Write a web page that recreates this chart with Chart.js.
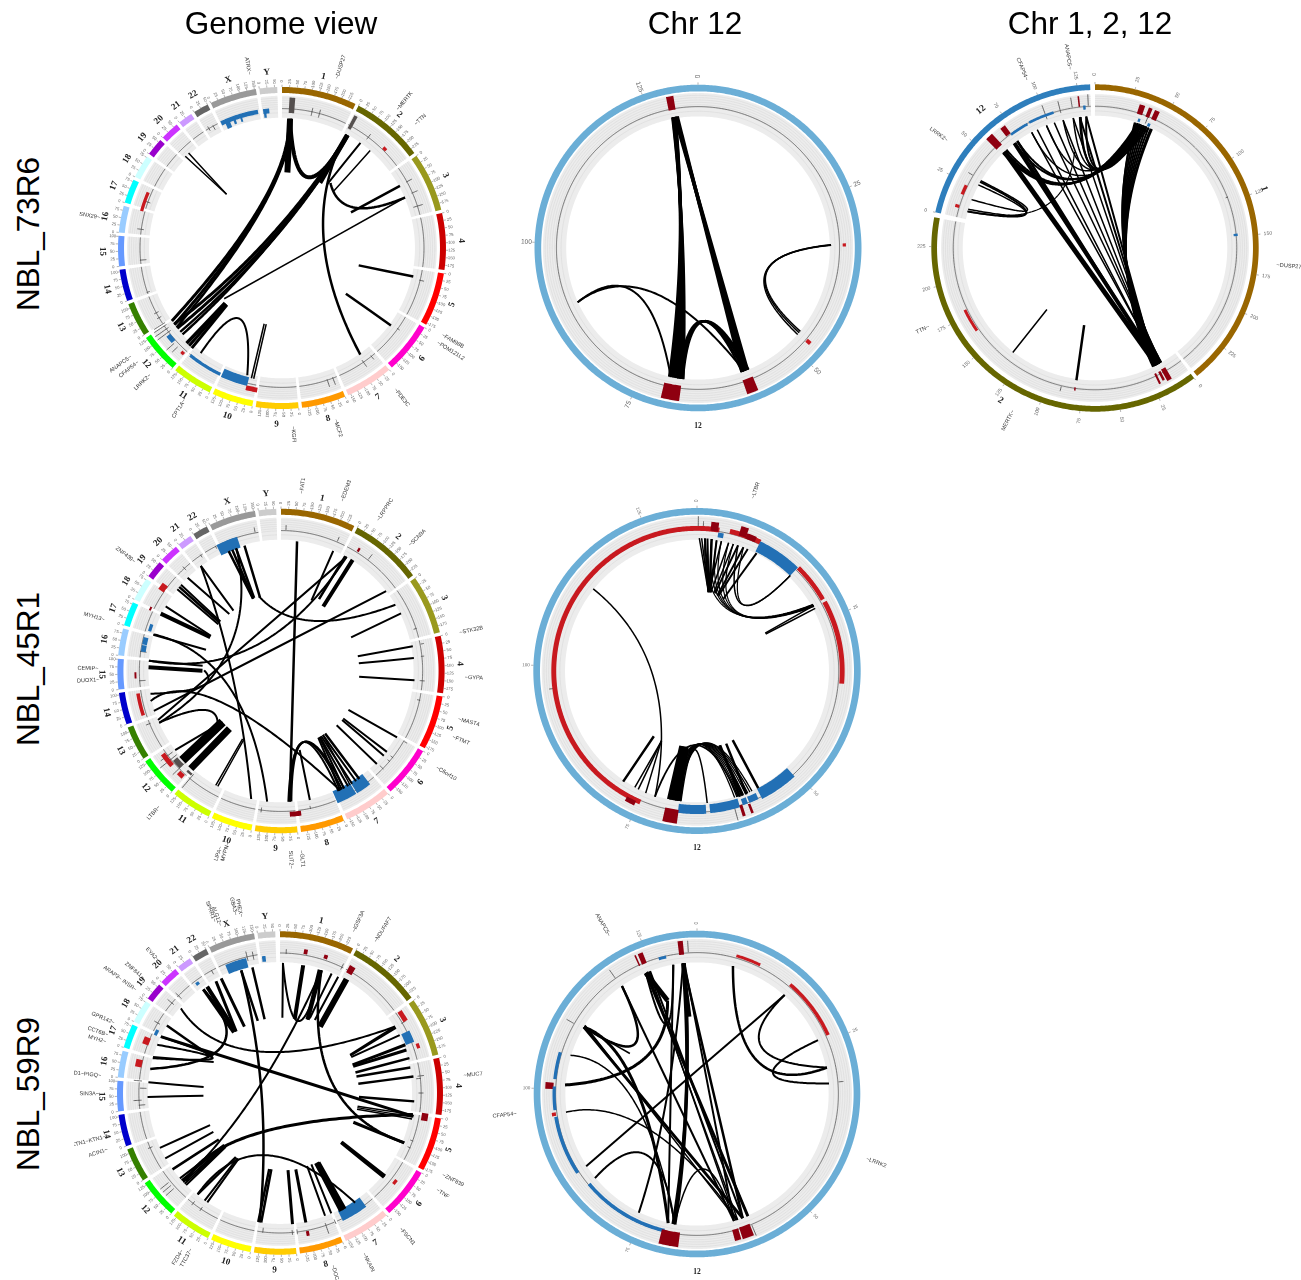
<!DOCTYPE html>
<html><head><meta charset="utf-8">
<script src="https://cdn.jsdelivr.net/npm/chart.js@4"></script>
<style>
html,body{margin:0;padding:0;background:#fff;width:1301px;height:1280px;overflow:hidden}
canvas{position:absolute;filter:blur(.35px)}
.t{position:absolute;font-family:"Liberation Sans",Arial,sans-serif;color:#000;white-space:nowrap;transform:translate(-50%,-50%)}
.r{transform:translate(-50%,-50%) rotate(-90deg)}
</style></head><body>
<script>
/* ---------- categories ---------- */
const CHROMOSOMES=['1','2','3','4','5','6','7','8','9','10','11','12','13','14','15','16','17','18','19','20','21','22','X','Y'];
const CHROM_SIZES=[249,243,198,191,181,171,159,146,141,136,135,133,115,107,102,90,81,78,59,63,48,51,155,59];
const CHROM_COLOURS=['#996600','#666600','#99991E','#CC0000','#FF0000','#FF00CC','#FFCCCC','#FF9900','#FFCC00','#FFFF00','#CCFF00','#00FF00','#358000','#0000CC','#6699FF','#99CCFF','#00FFFF','#CCFFFF','#9900CC','#CC33FF','#CC99FF','#666666','#999999','#CCCCCC'];
const COLUMN_TITLES=['Genome view','Chr 12','Chr 1, 2, 12'];
const SAMPLES=['NBL_73R6','NBL_45R1','NBL_59R9'];

/* links: [angle1, radius1, angle2, radius2, weight, controlAngle, controlRadius]
   segments: [startAngle, endAngle, level, height, kind]   marks: [angle, level0, level1]
   genes: [angle, level, name]                                                      */
const P1_LINKS=[[3.5,.805,4,.47,6],[3,.8,236,.81,3,9.5,.37],[3.5,.8,234,.81,3,9.5,.37],[4,.8,232.5,.81,2.5,9.5,.37],[3.5,.805,29.7,.807,4,31.8,.153],
[29.7,.807,234.3,.81,3,270,.04],[29.5,.65,232,.81,3,270,.04],[29.5,.65,230,.81,2.5,265,.03],[29.7,.807,228.5,.81,2.5,260,.03],[29.6,.807,29.6,.467,5],
[225.5,.487,224.5,.83,3.5],[224.5,.487,223,.83,3],[223.5,.487,221.5,.83,3],[67.3,.813,228.2,.473,1.5],[36.2,.81,34.9,.483,2],[41.6,.81,41.8,.476,1.5],
[61.8,.816,62.3,.475,2.5],[67.3,.813,36.2,.5,2.5,68.2,.386],[29.9,.66,144.2,.816,2.5,76,.12],[103,.48,102.5,.82,2.5],[126.1,.482,125.9,.82,2.5],
[314,.82,314.6,.475,1.5],[316,.82,314.6,.475,1.5],[217.2,.82,195,.818,2,226.5,.228],[193,.483,193,.83,1.5],[191.5,.483,192,.83,1.5]];
const P1_SEGMENTS=[[2.8,5,.888,.095,'mark'],[28.2,29.6,.89,.09,'mark'],[44.7,46.3,.878,.02,'amp'],[334.4,350.2,.858,.028,'loss'],[336,338,.83,.04,'loss'],[339.5,340.5,.835,.03,'loss'],[342.5,343.3,.835,.03,'loss'],[352.3,354.8,.855,.03,'loss'],[352.5,353.5,.83,.03,'loss'],
[205.6,220,.87,.02,'loss'],[194,205,.855,.055,'loss'],[189.7,194.2,.895,.03,'amp'],[228.7,232,.88,.03,'loss'],[222.2,223.6,.89,.02,'amp'],[285,292.9,.886,.02,'amp']];
const P1_MARKS=[[12.2,.84,.89],[15.3,.84,.89],[37.4,.85,.89],[61.6,.86,.9],[66.7,.86,.9],[72.5,.84,.9],[103.4,.86,.89],[125.4,.86,.88],[145,.85,.9],[141,.86,.89],[161.4,.86,.91],[159,.86,.91],[242.3,.85,.88],[240,.85,.88],[251.5,.85,.87],[265,.83,.87],[277.7,.85,.89],[289.2,.85,.88],[331,.84,.87],[329,.85,.88],[233,.85,.95],[234.5,.85,.95],[236,.85,.94],[237,.85,.93],[228,.885,.947],[226,.885,.93]];
const P1_GENES=[[17.6,1.18,'~DUSP27'],[39.3,1.18,'~MERTK'],[46.6,1.16,'~TTN'],[119,1.19,'~FAM98B'],[121.8,1.21,'~POM121L2'],[141.8,1.18,'~PDE3C'],[163,1.17,'~MCF2'],[176.5,1.16,'~KGFI'],[212.2,1.18,'CPT1A~'],[225.6,1.19,'LRRK2~'],[231.1,1.2,'CFAP54~'],[233.8,1.22,'ANAPC5~'],[279.7,1.19,'SNX29~'],[349.6,1.15,'ATRX~']];

const P2_LINKS=[[349,.815,186.5,.808,3,285.3,.066],[349.2,.815,187.5,.808,3,285.3,.066],[349.4,.815,188.5,.808,3,285.3,.066],[349.6,.815,189.5,.808,3,285.3,.066],[349.8,.815,190.5,.808,3,285.3,.066],[350,.815,191.5,.808,3,285.3,.066],[350.2,.815,192.5,.808,3,285.3,.066],
[350,.815,158,.806,3.5],[350.5,.815,159.3,.806,3.5],[351,.815,160.5,.806,3.5],[186.6,.808,157.5,.806,2.5,194.9,.127],[187.4,.808,158.5,.806,2.5,194.9,.127],[188,.808,159.5,.806,2.5,194.9,.127],[188.8,.808,160.5,.806,2,194.9,.12],
[245.7,.808,159.4,.806,2,268.5,.308],[245.7,.808,191.9,.808,2,271.5,.308],[88.6,.814,131,.808,1.5,114.4,.123],[88.7,.814,130,.808,1.5,113.8,.126],[88.8,.814,129.2,.808,1.5,113.3,.129]];
const P2_SEGMENTS=[[348,350.8,.902,.085,'gain'],[88.2,89.4,.895,.02,'amp'],[129.6,131.2,.887,.03,'amp'],[157,161.4,.9,.09,'gain'],[187,194,.897,.095,'gain']];
const P2_MARKS=[];
const P2_GENES=[];

const P3_LINKS=[[18,.805,150,.808,2,120,.03],[19,.805,150.5,.808,2,120,.03],[20,.805,151,.808,2,120,.03],[21,.805,151.5,.808,2,120,.03],[22,.805,152,.808,2,120,.03],[23,.805,152.5,.808,2,120,.03],[24,.805,153,.808,2,120,.03],[25,.805,153.5,.808,2,120,.03],[25.6,.805,154,.808,2,120,.03],[17.6,.805,150,.808,2,120,.04],
[316,.808,19,.805,2.5,310.5,.185],[317,.808,20,.805,2.5,310.5,.185],[318,.808,21,.805,2,310.5,.185],[322.5,.808,22,.805,2,318,.2],[324,.808,23,.805,2,318,.2],[331.3,.805,24,.805,1.5,325,.2],
[338.4,.805,19,.805,1.5,340,.2],[346,.805,20,.805,1.5,340,.2],[350.5,.805,21,.805,1.5,340,.2],[353.4,.805,22,.805,2,340,.2],[356.2,.805,23,.805,2,340,.2],[353.9,.805,20,.805,1.5,340,.18],
[316.8,.808,152.3,.808,5],[322.5,.808,151.5,.808,4],[324,.808,152,.808,2.5],[331.3,.805,151,.808,1.5],[334,.805,151.5,.808,1.5],[338.4,.805,150.5,.808,1.5],[342,.805,151,.808,1.5],[346,.805,151.5,.808,1.5],[350.5,.805,152,.808,1.5],[353.4,.805,152.5,.808,2],[356.2,.805,153,.808,2],
[299.9,.81,286,.81,2,317.8,.149],[298.4,.81,287,.81,1.5,317.8,.149],[291.4,.81,300.5,.81,1.5,317.8,.149],[286,.81,348,.6,1.2,300,.2],[218,.477,218.2,.812,1.5],[188,.476,188,.816,2.5]];
const P3_SEGMENTS=[[17.3,19.5,.89,.06,'gain'],[21,22.5,.89,.06,'gain'],[23.5,25.5,.89,.06,'gain'],[18.5,19.5,.825,.02,'loss'],[23,24.2,.82,.02,'loss'],[84.2,85.2,.863,.025,'loss'],[149.5,151.5,.885,.08,'gain'],[152,153,.88,.06,'gain'],[154,154.8,.885,.07,'gain'],[187.8,188.4,.87,.02,'gain'],[235,244.6,.88,.018,'amp'],
[286.4,287.6,.88,.025,'amp'],[292,296,.875,.02,'amp'],[315,318,.895,.09,'gain'],[321.5,323.7,.9,.06,'gain'],[323.5,331.4,.862,.016,'loss'],[332.3,343,.865,.016,'loss'],[355.2,356.2,.86,.025,'loss'],[353.4,354,.9,.065,'gain']];
const P3_MARKS=[[22,.82,.9],[69,.855,.87],[193.7,.87,.9],[300.8,.87,.9],[339.6,.84,.93],[345.8,.85,.925],[350.8,.87,.93],[357.3,.87,.94]];
const P3_GENES=[[95.3,1.19,'~DUSP27'],[352,1.18,'ANAPC5~'],[337.9,1.18,'CFAP54~'],[306,1.18,'LRRK2~'],[244.7,1.165,'TTN~'],[206.8,1.18,'MERTK~']];

const P4_LINKS=[[7,.805,176.2,.807,2.5],[23.3,.807,23.2,.473,2],[32.6,.813,33,.474,4],[29.7,.81,274.5,.81,2,236,.121],[52.5,.81,252.4,.815,2],[59.7,.81,343.7,.48,2,31.2,.215],[64.2,.815,64.2,.476,2],[79.3,.82,79.1,.478,2],[84.4,.816,84.3,.478,2],[94,.818,94.2,.479,2],[120,.819,120.2,.477,2],[127.6,.817,127.6,.48,2],[129.7,.817,128.9,.48,2],[134.4,.82,134.5,.477,2],[29,.81,27.7,.5,2.5],
[144.3,.82,145,.47,2.5],[146,.82,147,.47,2],[148,.82,148.5,.47,2],[150,.82,149.6,.47,2],[152,.82,150,.47,2],[153.8,.82,151,.47,2],[149,.82,147,.47,1.5],[154.6,.82,176.2,.807,2,146.3,.126],[153,.82,175.5,.807,2,146.3,.126],[152,.82,176.8,.807,2,146.3,.13],[167.5,.815,166.8,.5,2],
[193,.81,322.9,.812,2,269,.254],[186,.81,286.2,.81,2,294.2,.22],[336.6,.805,339,.477,2.5],[338.3,.805,339.2,.477,2.5],[340,.805,340,.48,2.5],[343.9,.805,344.2,.47,2.5],[340.2,.8,246.8,.81,2,300,.14],[322.9,.812,322,.472,2],[315.2,.81,318,.472,2],[309.8,.81,308.4,.48,2.5],[311,.81,309.5,.48,2],[308.5,.81,307,.48,2],[299.5,.81,296.9,.48,2],[295.7,.816,295.8,.48,4],[286,.812,286,.477,2],[274.5,.81,273.9,.48,2],[271.6,.81,270.2,.48,4],[260,.81,270.5,.47,2,250.3,.366],[256.9,.818,153.8,.82,2,277.8,.5],[248.1,.81,29.7,.81,2],[246.8,.81,230.1,.505,2,247.8,.418],[233,.81,228.6,.476,2],[227.6,.816,228.6,.476,9],[222.5,.816,221.6,.475,7],[209.5,.81,209.3,.48,1.5],[208.5,.81,208.3,.48,1.5]];
const P4_SEGMENTS=[[32,32.9,.885,.025,'gain'],[333,342,.835,.07,'loss'],[142,148.3,.846,.08,'loss'],[148.7,157,.846,.08,'loss'],[172,176.5,.885,.03,'gain'],[252,261,.885,.022,'amp'],[267,269.5,.89,.012,'gain'],[281,284,.85,.03,'loss'],[278,280.7,.85,.03,'loss'],[287,290,.84,.02,'loss'],[304,307,.885,.04,'amp'],[295,296.5,.885,.012,'gain'],[228.8,234.7,.885,.03,'amp'],[226,230,.845,.035,'mark'],[222.5,225,.885,.03,'amp'],[220.5,223,.84,.015,'mark']];
const P4_MARKS=[[2,.87,.9],[23.3,.87,.9],[37.8,.87,.91],[72.4,.85,.87],[79,.87,.89],[84,.86,.88],[94,.85,.88],[102,.85,.87],[120,.87,.89],[128,.85,.87],[130,.85,.87],[134,.84,.87],[168,.85,.87],[188,.85,.88],[248,.86,.89],[266,.83,.87],[278,.83,.87],[317,.85,.88],[325.5,.85,.87],[332.5,.85,.87],[349.5,.87,.9],[231,.82,.95],[233,.83,.92],[226,.82,.92],[220,.83,.94]];
const P4_GENES=[[6.6,1.15,'~FAT1'],[19.7,1.18,'~EDEM3'],[32.6,1.18,'~LRPPRC'],[45.4,1.17,'~SCN9A'],[77.8,1.19,'~STK32B'],[92,1.18,'~GYPA'],[105.3,1.19,'~MAST4'],[111.2,1.18,'~FTMT'],[122,1.19,'~C6orf10'],[173.6,1.165,'~GLT1'],[177,1.165,'SLIT2~'],[198.8,1.19,'LIPA~'],[197,1.165,'MYPN~'],[221.7,1.17,'LTBR~'],[267.2,1.18,'DUOX1~'],[270.8,1.18,'CEMIP~'],[286.3,1.19,'MYH13~'],[307,1.19,'ZNF439~']];

const P5_LINKS=[[1,.815,8.2,.489,1.5],[2,.815,8.2,.489,1.5],[3.4,.815,8.2,.489,2],[4.5,.815,8.4,.489,2],[6.3,.815,9,.489,2.5],[8.5,.81,9.5,.489,2],[10.6,.81,8.5,.489,1.5],[13.8,.81,10,.489,1.5],[15.9,.81,12,.489,1.5],[18,.81,13,.489,2],[20.5,.81,15,.48,2],[22.5,.81,16,.48,2],[26.7,.81,20,.47,2],
[3.4,.815,60.6,.818,1.2,6.9,.136],[6.3,.815,60,.818,1.2,6.9,.136],[8.5,.81,60.8,.818,1.2,6.9,.136],[10.6,.81,61,.818,1.2,6.9,.136],[13.8,.81,60.2,.818,1.2,6.9,.136],[15.9,.81,60.5,.818,1.2,8,.14],[60.6,.818,60.8,.477,1.5],[62,.818,61.6,.477,1.5],[18,.81,44.2,.817,1.5,43.7,.198],[20.5,.81,44.2,.817,1.2,43.7,.198],
[308.5,.81,198.4,.813,1.5,304.1,.107],[213.4,.479,213.6,.815,2.5],[206.8,.48,208,.809,1.5],[206.8,.48,206.3,.81,1.5],[207,.48,202.7,.812,1.5],[198.4,.813,162,.81,1.8,187,.14],
[187.7,.805,187.5,.47,3.5],[188.8,.805,188.6,.47,3.5],[190,.805,189.8,.47,3.5],[191.2,.805,191,.47,3.5],[192.4,.805,192,.47,3.5],
[188,.805,155.5,.81,1.3,187,.117],[188.5,.805,156.5,.81,1.3,187,.117],[189,.805,157.5,.81,1.3,187,.117],[189.5,.805,158.5,.81,1.3,187,.117],[190,.805,159.5,.81,1.3,187,.117],[190.5,.805,160.5,.81,1.3,187,.117],[191,.805,161.5,.81,1.3,187,.117],[191.5,.805,162.5,.81,1.3,187,.117],[192,.805,163.5,.81,1.3,187,.117],
[187,.805,175.6,.812,1.5,184,.16],[162.8,.477,161.2,.815,2.5],[163.5,.477,160,.815,2.5],[158.2,.48,158.2,.815,2.5],[152.8,.477,152.5,.81,2.5]];
const P5_SEGMENTS=[[203.3,360,.875,.03,'amp'],[0,9,.875,.03,'amp'],[5.5,8.5,.892,.055,'gain'],[8.7,11,.845,.03,'loss'],[13.2,26.1,.88,.03,'amp'],[17,20,.9,.06,'gain'],[20,24,.882,.035,'gain'],[26,44.2,.85,.07,'loss'],[44.4,60.3,.885,.028,'amp'],[61.4,95,.887,.03,'amp'],[137.3,153.1,.845,.07,'loss'],[154.4,158.4,.85,.04,'loss'],[159,161.2,.85,.04,'loss'],[162.5,174.7,.848,.055,'loss'],[176.3,187.7,.85,.055,'loss'],[187.5,193,.902,.085,'gain'],[161.4,162.6,.9,.07,'gain'],[158.2,159.2,.905,.06,'gain'],[205,209,.895,.03,'gain']];
const P5_MARKS=[[.5,.87,.95],[2.5,.87,.92],[263,.88,.91],[164.7,.87,.95]];
const P5_GENES=[[17.9,1.165,'~LTBR']];

const P6_LINKS=[[1.3,.805,1.8,.466,2],[10.2,.803,11.2,.467,4],[1.3,.8,18.5,.8,2,37.9,.14],[18.5,.8,20.9,.484,3],[17.5,.8,20,.484,3],[23.2,.804,21.6,.497,2],[26.4,.803,25.3,.5,2],[30.1,.814,30.8,.478,6],[18.5,.8,112,.822,2.5,124.5,.152],
[59.8,.817,61.2,.49,2],[60.5,.817,61.8,.49,2],[64,.817,63.1,.49,2],[68.8,.825,68.6,.478,3],[71.1,.82,69.9,.478,3],[74.8,.823,74.7,.48,2.5],[78.8,.815,77.7,.48,2.5],[82.9,.825,83.2,.484,2.5],[93.6,.825,92.9,.485,2.5],[99.3,.826,99.8,.483,1.5],[100.4,.826,100.8,.483,1.5],[101.2,.826,102,.483,1.5],[112,.822,111.9,.485,3],[128.5,.824,128.6,.484,3],[129.3,.824,129.4,.484,3],
[310.7,.802,59.8,.817,2,278.8,.303],[295.5,.81,100,.832,3],[226.7,.793,99.3,.826,3,247.5,.402],[218.9,.805,145.8,.82,2,231.2,.187],[18.5,.8,227.6,.808,2,234,.149],[342.6,.795,188.9,.81,2.5,270,.044],[342.6,.795,343,.466,2.5],[347.7,.795,348.3,.466,2.5],[333,.795,332,.465,3],[330.4,.795,324.7,.465,3],[325.8,.795,324.4,.47,4],[323.7,.795,322.7,.47,3],[323.7,.795,280.6,.81,2.5,340.9,.21],
[291.6,.81,285.4,.81,2,341.2,.184],[285.9,.81,295.3,.45,2],[295.5,.81,300,.47,2],[301,.81,298,.47,2.5],[274.7,.81,274.5,.47,2],[268.3,.813,268,.47,2],[245.3,.811,245.1,.473,2],[240.1,.812,239.6,.474,2],[234.4,.811,232.6,.473,2.5],[229.3,.81,227,.47,2],[228.2,.81,226.5,.47,2],[227.1,.81,226,.47,2],[226.2,.81,225.5,.47,2],[225.3,.81,225,.47,2],[218.9,.805,214.3,.48,2.5],[214.8,.81,212.9,.48,2],[213.4,.81,212,.48,2],
[188.2,.809,186.4,.475,2.5],[189.5,.809,188,.475,2.5],[174.6,.815,174.1,.479,3],[168.8,.816,168.4,.482,3],[160,.808,159.8,.481,2],[157.1,.808,156.4,.481,2],[152.6,.82,152.6,.486,5],[151.3,.82,151.6,.49,5]];
const P6_SEGMENTS=[[9.5,11,.887,.03,'gain'],[17.7,19.2,.887,.025,'gain'],[28.5,31,.875,.05,'gain'],[55.5,60,.89,.03,'amp'],[64,69,.855,.055,'loss'],[70,72,.895,.02,'amp'],[98,101,.9,.04,'gain'],[127,129,.895,.02,'amp'],[143,154,.845,.07,'loss'],[168.3,169.5,.885,.03,'gain'],[280.5,283.5,.885,.04,'amp'],[290,293,.88,.04,'amp'],[295,297.5,.845,.02,'loss'],[322.5,324,.845,.02,'loss'],[337,346,.83,.06,'loss'],[352.5,354,.835,.035,'loss']];
const P6_MARKS=[[2.5,.86,.89],[26,.85,.89],[60,.86,.89],[83,.85,.89],[84,.84,.87],[90,.85,.88],[110,.85,.87],[113,.85,.87],[161,.85,.92],[157,.85,.88],[175,.85,.88],[173,.85,.88],[187,.84,.87],[214,.85,.88],[218,.85,.88],[247,.85,.88],[267,.85,.9],[265,.83,.87],[275,.85,.9],[272,.82,.86],[300,.85,.89],[310,.85,.9],[314,.84,.89],[331,.84,.87],[227.8,.88,.945],[229.5,.88,.945],[231,.88,.945],[346.5,.84,.9],[349,.84,.89]];
const P6_GENES=[[24.4,1.165,'~IGSF3A'],[32,1.19,'~NDUFAF7'],[84.5,1.19,'~MUC7'],[116.9,1.19,'~ZNF839'],[121.9,1.175,'~TNF'],[138.6,1.18,'~FSCN1'],[152.6,1.18,'~NKAIN'],[163.1,1.16,'~DOC'],[209.4,1.17,'TTC37~'],[211.7,1.195,'FZD4~'],[251.7,1.175,'ACIN1~'],[255.8,1.21,'KTN1~KTN1~'],[269.8,1.17,'SIN3A~'],[275.6,1.21,'PKD1~PIGQ~'],[286.5,1.17,'MYH2~'],[288.8,1.18,'CCT6B~'],[293.1,1.18,'GPR142~'],[305.8,1.21,'ARAP3~ INSR~'],[310.3,1.17,'ZNF841~'],[317.6,1.16,'EYA2~'],[340.5,1.16,'ALG12~'],[339.3,1.2,'SPRR1~'],[347.7,1.17,'PHEX~'],[346.2,1.19,'GBA3~']];

const P7_LINKS=[[353.9,.805,354.6,.476,3.5],[353.9,.805,189.7,.81,3.5,211.5,.037],[354.5,.805,190.5,.81,3,211.5,.037],[354,.805,159.8,.81,2.5],[354.5,.805,163.8,.81,2],[349.6,.805,337.1,.805,2,302.3,.17],[349.6,.805,192.6,.81,2],[337.1,.805,342.5,.6,5],[337.1,.805,157.4,.81,3],[339.1,.805,159.8,.81,2],[338,.805,162.1,.81,1.5],[338.6,.805,163,.81,1.5],
[325.2,.805,163.8,.81,2],[325.2,.805,300.6,.805,2.5,293.8,.2],[300.6,.805,301.1,.48,1.5],[300.6,.805,192.6,.81,3,311.3,.426],[300.6,.805,159.8,.81,3],[301.5,.805,162.5,.81,1.5],[287,.81,189.7,.81,1.5,302.6,.386],[273.9,.81,342.5,.6,3,300.4,.2],[262.1,.81,162.1,.81,1.5,270.6,.303],[236.9,.81,41.5,.81,2],[230.5,.81,190,.8,2,248.5,.257],[206.1,.81,353.9,.805,2,235,.188],[189.7,.8,163.8,.81,1.5,170,.137],[157.1,.472,157.4,.81,1.5],
[15.7,.814,78.5,.812,2.5,104.2,.225],[41.5,.81,78.5,.812,2,31.8,.23],[66,.811,85.4,.811,2,70.6,.166]];
const P7_SEGMENTS=[[352.7,354.7,.9,.085,'gain'],[15.9,26.1,.88,.018,'amp'],[40.4,65.8,.88,.022,'amp'],[344.2,347.3,.86,.018,'loss'],[337,339,.895,.07,'gain'],[335.6,336.2,.895,.07,'gain'],[276,287,.875,.02,'loss'],[272,274.5,.905,.05,'gain'],[263.5,273,.875,.02,'loss'],[236.5,260.8,.875,.022,'loss'],[261.2,262.6,.885,.025,'amp'],[193.4,230.2,.86,.022,'loss'],[187,194.5,.9,.09,'gain'],[163,165.5,.895,.07,'gain'],[158,162.5,.895,.075,'gain']];
const P7_MARKS=[[356.5,.87,.94],[324.8,.87,.93],[299.8,.87,.92],[85.1,.87,.9],[157.3,.87,.94]];
const P7_GENES=[[330.9,1.185,'ANAPC5~'],[263.8,1.185,'CFAP54~'],[110.9,1.175,'~LRRK2']];

/* ---------- kinds, palette ---------- */
const KIND_COLOUR={gain:'#8f0010',amp:'#c8191f',loss:'#2270b5',mark:'#55504f'};
const TRACK_GREY='#ececec',GRID_GREY='#d8d8d8',BASE_COLOUR='#444';
const SINGLE_BLUE='#6baed6';

function genomeArcs(){const out=[];let a=0;const k=.107,gap=1.2;
  CHROMOSOMES.forEach((n,i)=>{const e=a+CHROM_SIZES[i]*k;out.push({name:n,size:CHROM_SIZES[i],start:a,end:e,colour:CHROM_COLOURS[i],k});a=e+gap;});return out;}
function threeArcs(){const k=.568;return [{name:'1',size:249,start:0,end:141.4,colour:'#996600',k},{name:'2',size:243,start:142.7,end:280.8,colour:'#666600',k},{name:'12',size:133,start:282.6,end:358.3,colour:'#2e7ebc',k}];}
function singleArcs(){return [{name:'12',size:133,start:0,end:360,colour:SINGLE_BLUE,k:2.72,labelAngle:180}];}

const PANELS=[
 {cx:282,cy:247.5,rx:164,ry:161,arcs:genomeArcs(),ring:.037,tr:[.81,.945],links:P1_LINKS,segs:P1_SEGMENTS,marks:P1_MARKS,genes:P1_GENES,noBase:['X','Y'],tf:4.2,cf:9},
 {cx:697.5,cy:248.3,rx:163.5,ry:163.3,arcs:singleArcs(),ring:.041,tr:[.806,.949],links:P2_LINKS,segs:P2_SEGMENTS,marks:P2_MARKS,genes:P2_GENES,noBase:[],tf:6.5,cf:7.5,tickOut:1.05},
 {cx:1095.3,cy:248,rx:163.7,ry:163.7,arcs:threeArcs(),ring:.035,tr:[.808,.94],links:P3_LINKS,segs:P3_SEGMENTS,marks:P3_MARKS,genes:P3_GENES,noBase:[],tf:5,cf:9.5,tickOut:1.06},
 {cx:281.4,cy:670.5,rx:163.6,ry:162.2,arcs:genomeArcs(),ring:.037,tr:[.81,.945],links:P4_LINKS,segs:P4_SEGMENTS,marks:P4_MARKS,genes:P4_GENES,noBase:['Y'],tf:4.2,cf:9},
 {cx:697,cy:670.8,rx:163.7,ry:163,arcs:singleArcs(),ring:.041,tr:[.806,.949],links:P5_LINKS,segs:P5_SEGMENTS,marks:P5_MARKS,genes:P5_GENES,noBase:[],tf:4.5,cf:7.5,tickOut:1.045},
 {cx:280.3,cy:1093.3,rx:163,ry:161.7,arcs:genomeArcs(),ring:.037,tr:[.81,.945],links:P6_LINKS,segs:P6_SEGMENTS,marks:P6_MARKS,genes:P6_GENES,noBase:['Y'],tf:4.2,cf:9},
 {cx:697.3,cy:1094,rx:163.3,ry:163.3,arcs:singleArcs(),ring:.041,tr:[.806,.949],links:P7_LINKS,segs:P7_SEGMENTS,marks:P7_MARKS,genes:P7_GENES,noBase:[],tf:4.5,cf:7.5,tickOut:1.045}
];

const polar=(a,r)=>{const t=a*Math.PI/180;return {x:r*Math.sin(t),y:r*Math.cos(t)};};
const GAP={x:NaN,y:NaN};
function arc(a0,a1,r){const n=Math.max(2,Math.ceil(Math.abs(a1-a0)/1.2)),p=[];for(let i=0;i<=n;i++)p.push(polar(a0+(a1-a0)*i/n,r));return p;}
function line(data,colour,width,cap){return {type:'scatter',data,showLine:true,borderColor:colour,backgroundColor:colour,borderWidth:width,pointRadius:0,pointHoverRadius:0,tension:.0001,capBezierPoints:false,borderCapStyle:cap||'butt',borderJoinStyle:'round',spanGaps:false};}
function linkPoints(l){const [a1,r1,a2,r2,,ca,cr]=l,p0=polar(a1,r1),p2=polar(a2,r2);if(ca===undefined)return [p0,p2];const c=polar(ca,cr),o=[];for(let i=0;i<=48;i++){const t=i/48,u=1-t;o.push({x:u*u*p0.x+2*u*t*c.x+t*t*p2.x,y:u*u*p0.y+2*u*t*c.y+t*t*p2.y});}return o;}

function buildPanel(P){
  const W=412,H=424,R=(P.rx+P.ry)/2,back=[];
  const mid=(P.tr[0]+P.tr[1])/2,th=P.tr[1]-P.tr[0];
  const trk=[],grid=[],base=[],ticks=[];
  P.arcs.forEach(A=>{
    trk.push(...arc(A.start,A.end,mid),GAP);
    for(let i=1;i<=6;i++){grid.push(...arc(A.start,A.end,P.tr[0]+th*(.3+.7*i/7)),GAP);}
    grid.push(...arc(A.start,A.end,P.tr[0]+th*.22),GAP);
    if(!P.noBase.includes(A.name))base.push(...arc(A.start,A.end,.866),GAP);
    for(let m=0;m<=A.size;m+=25){const a=A.start+m*A.k;if(a>=A.start+360)break;ticks.push(polar(a,1),polar(a,1.014),GAP);}
  });
  back.push(line(trk,TRACK_GREY,th*R));
  back.push(line(grid,GRID_GREY,.6));
  back.push(line(base,BASE_COLOUR,.7));
  P.arcs.forEach(A=>back.push(line(arc(A.start,A.end,1-P.ring/2),A.colour,P.ring*R)));
  back.push(line(ticks,'#777',.6));
  P.marks.forEach(m=>back.push(line([polar(m[0],m[1]),polar(m[0],m[2])],BASE_COLOUR,.8)));
  P.segs.forEach(s=>back.push(line(arc(s[0],s[1],s[2]),KIND_COLOUR[s[4]],s[3]*R)));
  P.links.forEach(l=>back.push(line(linkPoints(l),'#000',l[4],'butt')));
  const cv=document.createElement('canvas');cv.width=W;cv.height=H;
  cv.style.left=(P.cx-W/2)+'px';cv.style.top=(P.cy-H/2)+'px';cv.style.width=W+'px';cv.style.height=H+'px';
  document.body.appendChild(cv);
  const textPlugin={id:'circleText',afterDatasetsDraw(chart){
    const c=chart.ctx,sx=chart.scales.x,sy=chart.scales.y;
    const put=(a,r,txt,font,col,mode)=>{const p=polar(a,r),x=sx.getPixelForValue(p.x),y=sy.getPixelForValue(p.y);
      c.save();c.translate(x,y);c.fillStyle=col;c.font=font;c.textBaseline='middle';c.textAlign='center';
      let rot;if(mode==='tan'){rot=a>90&&a<270?a-180:a;}else{rot=a<180?a-90:a+90;}
      c.rotate(rot*Math.PI/180);c.fillText(txt,0,0);c.restore();};
    P.arcs.forEach(A=>{
      for(let m=0;m<=A.size;m+=25){const a=A.start+m*A.k;if(a>=A.start+360)break;put(a,P.tickOut||1.035,String(m),P.tf+'px "Liberation Sans"','#666','rad');}
      const la=A.labelAngle!==undefined?A.labelAngle:(A.start+A.end)/2;
      put(la,A.labelAngle!==undefined?1.088:1.095,A.name,'bold '+P.cf+'px "Liberation Serif"','#222','tan');
    });
    P.genes.forEach(g=>put(g[0],g[1],g[2],'5.6px "Liberation Sans"','#333','rad'));
  }};
  new Chart(cv,{type:'scatter',data:{datasets:back.reverse()},plugins:[textPlugin],options:{
    responsive:false,animation:false,devicePixelRatio:1,events:[],layout:{padding:0},
    plugins:{legend:{display:false},tooltip:{enabled:false},title:{display:false}},
    scales:{x:{type:'linear',display:false,min:-W/2/P.rx,max:W/2/P.rx},y:{type:'linear',display:false,min:-H/2/P.ry,max:H/2/P.ry}}
  }});
}
PANELS.forEach(buildPanel);

function label(txt,x,y,size,cls){const d=document.createElement('div');d.className=cls;d.textContent=txt;d.style.left=x+'px';d.style.top=y+'px';d.style.fontSize=size+'px';document.body.appendChild(d);}
[281,695,1090].forEach((x,i)=>label(COLUMN_TITLES[i],x,23,31.5,'t'));
[234,668.5,1094].forEach((y,i)=>label(SAMPLES[i],28,y,31.5,'t r'));
</script>
</body></html>
